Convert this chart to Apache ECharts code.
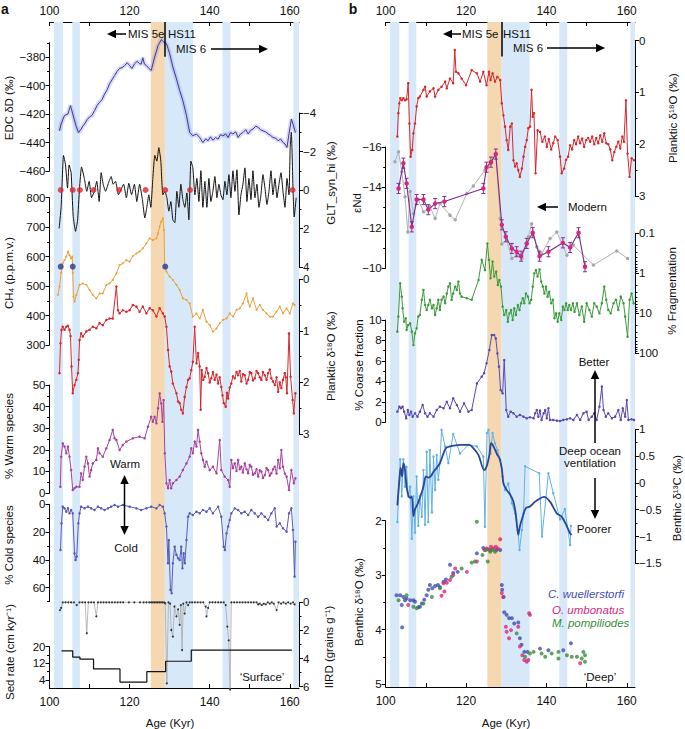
<!DOCTYPE html>
<html><head><meta charset="utf-8">
<script src="https://cdn.jsdelivr.net/npm/echarts@6/dist/echarts.min.js"></script>
<style>html,body{margin:0;padding:0;background:#fff}#c{width:685px;height:729px}</style>
</head><body><div id="c"></div>
<script>
// ---------- DATA ----------
const xTickVals = [100,110,120,130,140,150,160];
const xLabelVals = [100,120,140,160];
const blueBands = [[101.1,103.4],[105.7,107.6],[128.8,135.8],[143.2,145.2],[160.9,162.3]];
const orangeBands = [[125.3,128.8]];
const hs11Age = 128.8;

const edcD = [[102.5,-431.8],[102.9,-427],[103.75,-421],[104.6,-420],[105.25,-414],[105.8,-420],[106.7,-429],[107.25,-433],[107.9,-430.6],[108.3,-428.5],[108.75,-427],[109.4,-424],[110,-422],[110.6,-421],[111.25,-417.6],[111.9,-414],[112.5,-411.8],[113.1,-410],[113.75,-406],[114.4,-403],[115,-398.8],[115.6,-396],[116.25,-393],[116.9,-390],[117.5,-388],[118.1,-387.5],[118.75,-386],[119.4,-384],[120,-386],[120.6,-388],[121.25,-384.7],[121.9,-383],[122.5,-384.7],[122.9,-385],[123.3,-380.5],[123.7,-385],[124.2,-386],[124.8,-388],[125.4,-389.4],[125.8,-385],[126.25,-380],[126.7,-376],[127.1,-372],[127.5,-370],[127.9,-367.8],[128.5,-369.4],[129.2,-370.6],[129.6,-374],[130,-377.6],[130.8,-387],[131.7,-395.3],[132.5,-403.5],[133.3,-410.6],[134.2,-421],[135,-432.9],[135.8,-435.3],[136.7,-434],[137.5,-436.5],[138.3,-440],[139,-437.5],[139.6,-438.8],[140.2,-436],[140.8,-438.4],[141.5,-436.5],[142.1,-437.6],[142.7,-434.5],[143.3,-435.3],[144,-434],[144.6,-436.5],[145.2,-433],[145.8,-434],[146.5,-432.5],[147.1,-436.5],[147.7,-434],[148.3,-433],[149,-431],[149.6,-434],[150.2,-431.5],[150.8,-430.6],[151.5,-428.5],[152.1,-429.4],[152.7,-431],[153.3,-431.8],[154,-432.5],[154.6,-434],[155.2,-435],[155.8,-436.5],[156.5,-437],[157.1,-438.8],[157.7,-437.5],[158.3,-440],[158.8,-441],[159.3,-443.5],[159.8,-434],[160.4,-423.5],[160.8,-427],[161.4,-433]];

const gltSyn = [[102.4,2.0],[102.9,0.9],[103.5,-1.8],[104.0,-1.3],[104.5,-0.1],[104.9,-1.3],[105.4,-0.9],[105.9,1.3],[106.5,2.15],[107.0,1.6],[107.5,-0.1],[108.0,-1.2],[108.7,-0.6],[109.3,0.07],[109.9,-0.45],[110.5,0.4],[111.2,0.07],[111.8,-0.45],[112.4,0.6],[112.9,-0.9],[113.4,-0.3],[114.0,0.07],[114.7,-0.35],[115.4,-0.7],[115.9,-0.3],[116.5,-0.45],[117.2,0.25],[117.8,0],[118.5,-0.3],[119.2,0.4],[119.8,-0.35],[120.5,0.25],[121.2,-0.3],[121.8,0.6],[122.5,-0.3],[123.2,0.5],[123.8,1.45],[124.3,0.9],[124.8,0.25],[125.3,0.9],[125.8,-0.6],[126.3,-1.8],[126.8,-1.5],[127.3,-2.2],[127.8,-1.5],[128.3,0.25],[128.8,0.07],[129.3,0.4],[129.8,1.1],[130.3,0.6],[130.8,1.55],[131.3,1.7],[131.8,0.07],[132.3,0.9],[132.8,-0.3],[133.3,0.5],[133.8,0.9],[134.3,0.15],[134.8,1.55],[135.3,-1.5],[135.8,-1.15],[136.3,0.25],[136.8,-0.6],[137.3,0.6],[137.8,-1.0],[138.3,0.9],[138.8,-0.45],[139.3,0.9],[139.8,-0.6],[140.3,0.6],[140.8,0.07],[141.3,-0.7],[141.8,0.4],[142.3,-0.3],[142.8,0.25],[143.3,0.5],[143.8,-0.45],[144.3,0.25],[144.8,-0.8],[145.3,0.4],[145.8,-1.0],[146.3,0.07],[146.8,-1.05],[147.3,1.3],[147.8,0.25],[148.3,-0.3],[148.8,-1.15],[149.3,0.6],[149.8,-0.6],[150.3,0.5],[150.8,-1.0],[151.3,0.4],[151.8,-0.3],[152.3,0.9],[152.8,0.25],[153.3,-0.8],[153.8,-0.1],[154.3,0.75],[154.8,0.07],[155.3,-1.0],[155.8,0.25],[156.3,-0.6],[156.8,0.4],[157.3,-0.3],[157.8,-0.9],[158.3,0.07],[158.8,0.9],[159.3,-0.6],[159.8,0.25],[160.1,-2.2],[160.4,-3.0],[160.8,-0.1],[161.1,1.4],[161.6,0.4]];
const gltTiePoints = [[102.8,0],[105.8,0],[107.6,0],[111.0,0],[117.4,0],[124.0,0],[128.9,0],[135.1,0],[160.7,0]];

const ch4 = [[102.1,470],[102.5,498],[102.9,545],[103.3,577],[103.75,588],[104.2,600],[104.6,617],[105.0,605],[105.4,594],[105.7,600],[105.8,545],[106.0,464],[106.25,447],[106.7,470],[107.5,504],[108.3,509],[109.2,504],[110.0,487],[110.8,470],[111.7,458],[112.5,475],[113.3,475],[114.2,504],[115.0,509],[115.8,521],[116.7,543],[117.5,571],[118.3,577],[119.2,588],[120.0,583],[120.8,602],[121.7,611],[122.5,617],[123.3,628],[124.2,645],[125.0,662],[125.8,656],[126.7,662],[127.1,679],[127.5,702],[127.9,719],[128.3,730],[128.6,690],[128.75,566],[129.2,549],[130.0,532],[130.8,521],[131.7,504],[132.5,487],[133.3,458],[134.2,453],[135.0,441],[135.8,396],[136.7,407],[137.5,390],[138.3,419],[139.2,379],[140.0,368],[140.8,345],[141.7,356],[142.5,374],[143.3,385],[144.2,390],[145.0,407],[145.8,396],[146.7,419],[147.5,424],[148.3,441],[149.2,475],[149.6,447],[150.0,430],[150.8,458],[151.7,419],[152.5,436],[153.3,419],[154.2,407],[155.0,396],[155.8,396],[156.7,413],[157.5,430],[158.3,407],[159.2,424],[160.0,407],[160.8,441],[161.2,436]];
const ch4TiePoints = [[102.8,566],[105.8,566],[128.9,566]];

const plankA = [[102.5,1.82],[102.75,1.24],[103.0,0.98],[103.3,0.92],[103.75,0.98],[104.2,0.92],[104.6,0.9],[105.0,0.98],[105.25,1.1],[105.5,1.69],[105.8,2.21],[106.25,2.05],[106.7,1.95],[107.1,1.82],[107.3,1.56],[107.5,1.18],[107.9,1.05],[108.3,1.11],[109.2,1.01],[110.0,0.98],[110.8,0.92],[111.7,0.95],[112.5,0.85],[113.3,0.89],[114.2,0.79],[115.0,0.76],[115.8,0.76],[116.7,0.14],[117.1,0.6],[117.5,0.66],[118.3,0.6],[119.2,0.63],[120.0,0.6],[120.8,0.5],[121.7,0.53],[122.5,0.63],[123.3,0.53],[124.2,0.66],[125.0,0.56],[125.8,0.6],[126.7,0.72],[127.5,0.56],[128.3,0.66],[128.75,0.72],[129.2,0.92],[129.6,1.37],[130.0,1.69],[130.4,1.79],[130.8,2.02],[131.7,2.21],[132.1,2.37],[132.5,2.4],[132.9,2.53],[133.3,2.6],[133.75,2.28],[134.2,2.09],[134.6,1.95],[135.0,1.92],[135.4,1.76],[135.8,1.6],[136.25,0.92],[136.7,1.63],[137.1,1.43],[137.5,1.69],[137.75,2.53],[138.0,1.76],[138.4,1.95],[138.75,1.89],[139.2,1.72],[139.6,1.82],[140.0,2.0],[140.4,1.92],[140.8,1.8],[141.25,1.95],[141.7,1.85],[142.1,2.02],[142.5,1.9],[142.9,2.09],[143.2,2.25],[143.5,2.4],[144.0,2.47],[144.3,2.2],[144.6,2.31],[145.0,2.1],[145.4,2.02],[145.8,1.88],[146.25,1.92],[146.7,1.8],[147.1,1.86],[147.5,1.78],[147.9,1.98],[148.3,1.84],[148.75,1.86],[149.2,2.02],[149.6,1.95],[150.0,1.8],[150.4,1.82],[150.8,1.96],[151.25,1.92],[151.7,1.78],[152.1,1.82],[152.5,1.9],[152.9,1.95],[153.3,1.8],[153.75,1.86],[154.2,1.95],[154.6,1.82],[155.0,1.75],[155.4,1.92],[155.8,1.98],[156.25,2.05],[156.7,1.9],[157.1,2.18],[157.5,2.0],[157.9,2.11],[158.3,1.95],[158.75,1.82],[159.0,1.9],[159.3,2.21],[159.8,1.05],[160.2,1.89],[160.7,2.34],[161.0,2.6],[161.4,2.21]];

const warmSp = [[102.7,2.9],[102.9,16.8],[103.3,23],[103.75,21.5],[104.2,18.4],[104.6,21.5],[105.0,16.8],[105.4,10.6],[105.8,1.4],[106.25,2.2],[106.7,2.9],[107.5,2.9],[107.9,9.1],[108.3,6.0],[108.75,12.2],[109.2,16.8],[109.6,13.7],[110.0,7.6],[110.4,10.6],[110.8,13.7],[111.7,15.3],[112.1,20.7],[112.5,18.4],[113.3,16.8],[114.2,20.7],[115.0,24.5],[115.8,29.2],[116.25,25.3],[116.7,24.5],[117.5,19.9],[118.3,22.2],[119.2,23.8],[120.8,25.3],[122.5,26.1],[123.75,25.3],[124.6,30.7],[125.4,35.3],[125.8,33],[126.25,35.3],[126.7,32.3],[127.1,39.2],[127.5,46.1],[127.9,41.5],[128.2,33],[128.5,43],[128.8,18.4],[129.2,4.5],[129.6,2.2],[130.0,6],[130.4,2.2],[130.8,4.5],[131.7,6],[132.5,7.6],[133.3,10.6],[134.2,13.7],[135.0,16.8],[135.4,20.7],[135.8,18.4],[136.25,23.8],[136.7,21.5],[137.1,29.2],[137.5,23.8],[137.9,18.4],[138.3,15.3],[138.75,12.2],[139.2,14.5],[140.0,10.6],[140.8,12.2],[141.7,9.1],[142.5,24.5],[142.9,10.6],[143.75,7.6],[144.6,6],[145.0,2.9],[145.4,15.3],[145.8,11.5],[146.25,13.7],[146.7,10.2],[147.1,15.3],[147.5,11],[147.9,12.2],[148.3,9.5],[148.75,13.7],[149.2,11],[149.6,9.1],[150.0,13],[150.4,12.2],[150.8,8.5],[151.25,9.1],[151.7,11],[152.1,7.6],[152.5,10.5],[152.9,9.9],[153.3,7],[153.75,8.3],[154.2,11.5],[154.6,10.6],[155.0,8],[155.4,9.1],[155.8,11],[156.25,12.2],[156.7,9],[157.1,15.3],[157.5,11.5],[157.9,19.9],[158.3,12.2],[158.75,9],[159.2,7.6],[159.8,1.4],[160.4,10.6],[161.0,4.5],[161.4,6.8]];

const coldSp = [[102.75,32.9],[103.0,13.7],[103.3,1.7],[103.75,2.9],[104.2,5.3],[104.6,2.9],[105.0,6.5],[105.4,4.1],[105.8,6.5],[106.25,35.3],[106.5,40],[106.8,37.6],[107.2,13.7],[107.5,6.5],[107.9,1.7],[108.75,2.9],[109.6,1.7],[110.4,2.9],[111.25,4.1],[112.1,1.7],[112.9,2.9],[113.75,4.1],[114.6,2.9],[115.4,1.7],[116.25,0.5],[117.1,1.7],[118.3,0.5],[120.0,1.7],[121.7,2.9],[122.9,4.1],[124.2,2.9],[125.4,1.7],[126.7,2.9],[127.5,0.5],[128.3,1.7],[128.75,6.5],[129.2,16],[129.6,42.4],[129.8,25.7],[130.2,61.6],[130.5,64],[130.8,42.4],[131.25,30.5],[131.7,36.4],[132.1,38.8],[132.5,40],[132.9,30.5],[133.2,46],[133.5,35.3],[133.8,42.4],[134.2,25.7],[134.6,8.9],[135.0,6.5],[135.8,7.7],[136.7,5.3],[137.5,6.5],[138.3,4.1],[139.2,5.3],[140.0,2.9],[140.8,6.5],[142.1,1.7],[142.9,8.9],[143.5,30.5],[143.8,32.9],[144.2,20.9],[144.6,16],[145.0,11.3],[145.4,6.5],[146.25,2.9],[147.1,4.1],[147.9,6.5],[148.75,5.3],[149.6,7.7],[150.4,4.1],[151.25,6.5],[152.1,8.9],[152.9,6.5],[153.75,8.9],[154.6,11.3],[155.4,6.5],[156.25,2.9],[156.7,16],[157.5,13.7],[158.3,17.3],[159.2,19.7],[159.8,6.5],[160.4,2.9],[160.8,18.5],[161.2,52],[161.4,26.9]];

const iird = [[102.6,0.55],[102.9,0.4],[103.3,0],[104.0,0],[104.7,0],[105.4,0],[106.1,0],[106.8,0.2],[107.5,0],[108.2,0],[108.9,0],[109.3,2.2],[109.7,0],[110.4,0],[111.1,0],[111.7,1.0],[112.1,0],[112.8,0],[113.5,0],[114.2,0],[114.9,0],[115.6,0],[116.3,0],[117.0,0],[117.7,0],[118.4,0],[119.8,0],[121.2,0],[122.6,0],[123.5,0],[124.2,0],[124.9,0],[125.4,0],[125.8,0],[126.2,0],[126.6,0],[127.0,0],[127.4,0],[127.8,0],[128.2,0],[128.6,0],[128.9,0.07],[129.3,5.76],[129.7,0],[130.1,0.1],[130.4,1.97],[130.8,2.44],[131.2,0.3],[131.7,1.0],[132.1,0.5],[132.5,1.6],[132.8,0.2],[133.1,3.4],[133.4,0.1],[133.75,0.8],[134.2,0],[134.6,0.2],[135.0,0],[135.6,0],[136.3,0],[137.0,0],[137.7,0],[138.4,0],[139.0,0.3],[139.2,1.0],[139.6,0.4],[140.0,0],[140.7,0],[141.4,0],[142.1,0],[142.8,0],[143.5,0],[144.0,0.2],[144.4,1.73],[144.75,2.7],[145.1,6.2],[145.4,0],[146.1,0],[146.8,0],[147.5,0],[148.2,0],[148.9,0],[149.6,0],[150.3,0],[151.0,0],[151.7,0],[152.1,0.15],[152.5,0.1],[153.0,0.2],[153.5,0.1],[154.0,0.15],[154.5,0],[155.0,0.1],[155.5,0],[156.0,0.1],[156.7,0.55],[157.2,0],[157.8,0.1],[158.4,0],[159.0,0.1],[159.6,0],[160.2,0.1],[160.8,0],[161.2,0.15]];

const sedRate = [[103.0,18],[105.8,15],[107.6,14],[111.0,9.3],[117.6,3],[124.3,8],[129.0,13],[135.4,18.4],[160.5,18.4]];

const plankB = [[102.9,1.85],[103.15,1.4],[103.4,1.21],[103.65,1.11],[104.0,1.15],[104.4,1.11],[104.8,1.15],[105.2,1.13],[105.6,0.82],[105.9,1.6],[106.2,2.24],[106.6,2.11],[106.9,1.79],[107.3,1.6],[107.7,1.27],[108.1,1.11],[108.5,1.08],[109.4,0.95],[109.8,0.89],[110.2,1.08],[111.0,0.98],[111.9,0.92],[112.3,1.08],[113.1,0.95],[113.9,0.89],[114.8,0.79],[115.2,0.92],[116.0,0.73],[116.8,0.82],[117.2,0.18],[117.5,0.6],[118.1,0.63],[118.9,0.73],[120.0,0.86],[121.4,0.57],[122.7,0.63],[123.5,0.79],[124.3,0.6],[125.1,0.86],[125.7,0.6],[126.1,0.76],[126.6,0.63],[127.2,0.79],[127.8,0.7],[128.5,0.76],[128.9,1.21],[129.3,1.44],[129.7,1.66],[130.1,1.92],[130.5,2.11],[131.0,1.66],[131.4,1.6],[131.8,2.31],[132.2,2.43],[132.6,2.37],[133.0,2.5],[133.4,2.63],[133.9,2.47],[134.3,2.24],[134.7,2.05],[135.1,1.92],[135.5,1.69],[135.9,1.66],[136.3,0.95],[136.6,1.47],[136.9,1.4],[137.3,2.56],[137.8,1.73],[138.4,1.76],[139.0,1.95],[139.6,1.85],[140.1,2.05],[140.6,1.9],[141.2,2.1],[141.7,1.98],[142.2,1.85],[142.8,1.92],[143.4,2.24],[143.8,2.56],[144.4,2.47],[144.9,2.3],[145.4,2.24],[145.9,2.02],[146.4,2.1],[146.9,1.92],[147.4,2.0],[147.9,1.85],[148.4,1.98],[148.9,1.89],[149.4,2.05],[149.9,1.92],[150.4,1.88],[150.9,1.95],[151.4,1.85],[151.9,2.0],[152.4,1.88],[152.9,1.98],[153.4,1.83],[153.9,1.95],[154.4,1.79],[154.9,1.98],[155.4,2.0],[155.9,2.1],[156.4,2.31],[156.9,2.15],[157.4,2.05],[157.9,1.95],[158.4,2.08],[158.9,1.85],[159.3,1.95],[159.8,1.15],[160.2,2.18],[160.7,2.63],[161.2,2.27],[161.8,2.31]];

const ndPurple = [[103.2,-13.95],[104.4,-15.2],[105.2,-14.2],[106.5,-12.05],[107.7,-13.4],[109.4,-13.4],[110.6,-12.9],[112.3,-13.2],[114.6,-13.3],[124.3,-13.95],[125.1,-15.0],[126.2,-15.25],[127.4,-15.65],[128.9,-12.15],[129.9,-11.56],[131.4,-10.98],[132.6,-10.82],[133.7,-10.6],[135.1,-11.23],[136.6,-11.76],[138.3,-10.6],[140.5,-10.82],[144.1,-11.26],[145.9,-11.03],[148.0,-11.76],[149.6,-10.08]];
const ndGrey = [[102.3,-15.27],[103.2,-15.77],[104.0,-14.78],[104.8,-13.54],[105.5,-11.8],[106.1,-13.8],[106.9,-12.7],[108.1,-13.4],[109.4,-12.8],[111.0,-13.05],[112.3,-12.47],[113.5,-13.2],[116.0,-12.63],[117.3,-12.4],[120.2,-13.7],[121.8,-14.07],[124.7,-14.86],[126.2,-15.2],[127.4,-15.7],[128.5,-12.47],[128.9,-11.2],[130.1,-11.4],[131.4,-10.49],[132.6,-10.65],[133.9,-10.49],[135.5,-11.56],[136.3,-12.2],[137.6,-11.06],[138.8,-10.72],[140.9,-11.47],[142.6,-11.8],[145.1,-10.65],[146.7,-11.15],[151.7,-10.16],[157.5,-10.86],[160.2,-10.49]];
const ndError = 0.25;

const fragment = [[102.9,28.7],[103.15,12.1],[103.6,1.78],[104.0,3.83],[104.2,7.5],[104.6,16.2],[105.0,13.3],[105.2,26],[105.6,19.6],[106.1,17.8],[106.5,28.7],[106.9,61.9],[107.3,31.6],[107.7,23.7],[108.1,12.1],[108.5,11],[109.0,4.6],[109.4,2.6],[109.8,6.2],[110.2,8.25],[110.6,6.2],[111.0,4.6],[111.5,7.5],[111.9,6.2],[112.3,11],[112.7,7.5],[113.1,4.6],[113.5,8.25],[113.9,4.6],[114.4,3.83],[114.8,5.6],[115.2,3.2],[115.6,2.15],[116.0,1.78],[116.4,4.6],[116.8,3.2],[117.3,2.15],[117.7,2.6],[118.1,1.6],[118.5,3.2],[118.9,3.83],[120.2,4.2],[121.4,4.6],[123.1,1.47],[123.9,0.46],[124.7,0.83],[125.3,0.18],[125.7,0.46],[126.1,1.33],[126.6,0.51],[127.0,1.2],[127.5,0.9],[127.9,1.96],[128.3,1.47],[128.7,2.15],[129.1,6.8],[129.5,11],[130.0,8.25],[130.4,16.2],[130.8,10],[131.2,8.25],[131.6,14.7],[132.0,7.5],[132.4,11],[132.9,6.2],[133.3,8.25],[133.7,5.6],[134.1,4.2],[134.5,5.6],[134.9,3.2],[135.4,3.83],[135.8,5.6],[136.2,4.6],[136.6,2.15],[137.0,1],[137.4,0.83],[137.8,1.2],[138.3,0.8],[138.7,1.6],[139.1,2.15],[139.5,3.2],[139.9,2.15],[140.3,3.83],[140.7,2.9],[141.2,5.6],[141.6,4.6],[142.0,13.3],[142.4,10],[142.8,16.2],[143.2,10],[143.7,14.7],[144.1,6.8],[144.5,8.25],[144.9,5.6],[145.3,8.25],[145.7,6.2],[146.1,8.25],[146.6,5.6],[147.0,9.2],[147.6,5.6],[148.2,11],[148.8,6.8],[149.4,16.2],[150.0,5.6],[150.7,8.25],[151.3,12.1],[151.9,5.6],[152.5,6.8],[153.2,10],[153.8,5.6],[154.4,2.15],[154.9,4.6],[155.4,8.25],[156.0,10],[156.7,5.6],[157.3,4.6],[157.9,8.25],[158.5,3.83],[159.2,5.6],[159.6,12.1],[160.2,38.3],[160.7,4.6],[161.2,3.2],[161.7,5.6]];

const coarse = [[102.9,1.04],[103.4,1.53],[103.8,1.37],[104.2,1.53],[104.6,1.04],[105.1,0.39],[105.5,1.2],[105.9,0.72],[106.3,1.04],[106.7,0.55],[107.3,0.88],[107.9,0.55],[108.5,1.04],[109.2,1.69],[109.8,0.88],[110.4,0.55],[111.0,0.88],[111.9,0.55],[112.7,1.2],[113.5,1.53],[114.4,1.37],[115.2,2.0],[116.0,1.37],[116.8,2.35],[117.7,1.69],[118.5,1.04],[119.5,1.86],[120.6,1.04],[121.4,1.2],[122.7,3.8],[123.9,4.46],[124.5,4.8],[125.1,5.77],[125.8,7.07],[126.4,8.53],[127.0,8.53],[127.4,8.2],[127.8,6.74],[128.2,5.44],[128.6,3.16],[129.1,2.83],[129.5,6.09],[130.0,1.2],[130.5,0.55],[131.1,1.04],[131.8,0.88],[132.6,0.55],[133.4,0.72],[134.3,0.55],[135.1,0.39],[135.9,0.49],[136.8,0.39],[137.2,0.88],[137.6,1.2],[138.0,0.55],[138.4,1.14],[138.8,0.23],[139.3,0.88],[139.7,1.2],[140.1,0.39],[140.5,1.37],[140.9,0.23],[141.7,0.23],[142.6,0.16],[143.4,0.13],[144.2,0.23],[145.1,0.29],[145.9,0.39],[146.7,0.23],[147.6,0.72],[148.4,0.23],[149.2,0.88],[150.0,1.04],[150.5,0.23],[151.3,0.55],[151.9,0.88],[152.5,0.23],[153.2,1.53],[153.8,3.49],[154.2,1.2],[154.8,0.55],[155.4,0.88],[156.3,0.39],[157.1,0.55],[157.9,1.2],[158.5,0.23],[159.0,1.37],[159.6,0.55],[160.0,2.18],[160.4,0.23],[161.2,0.29],[161.8,0.23]];

const d13cSmooth = [[102.9,-0.42],[103.4,0.06],[103.7,0.28],[104.1,0.12],[104.4,0.37],[104.8,0.25],[105.2,-0.07],[105.6,-0.22],[106.1,-0.28],[106.5,-0.25],[106.9,-0.62],[107.3,-0.49],[107.9,-0.4],[108.5,-0.28],[109.4,-0.07],[110.0,0.12],[110.6,0.1],[111.2,0.12],[111.9,0.21],[112.7,0.28],[113.5,0.37],[114.4,0.55],[115.0,0.65],[116.0,0.68],[117.3,0.7],[118.5,0.71],[119.8,0.71],[120.8,0.71],[121.8,0.65],[123.1,0.52],[124.5,0.24],[125.1,0.3],[125.8,0.52],[126.2,0.74],[126.6,0.71],[127.2,0.62],[127.8,0.52],[128.3,0.46],[128.9,0.27],[129.3,-0.01],[130.1,-0.13],[131.0,-0.22],[131.8,-0.35],[132.4,-0.6],[133.0,-0.97],[133.4,-0.81],[134.1,-0.63],[134.9,-0.47],[135.9,-0.44],[137.2,-0.35],[138.4,-0.29],[139.4,-0.26],[140.9,-0.35],[142.6,-0.57],[143.8,-0.63],[145.1,-0.81],[145.9,-0.94],[146.3,-0.97]];
const d13cRaw = [[102.9,-0.73],[103.6,0.44],[104.0,-0.25],[104.4,0.44],[104.8,-0.07],[105.2,0.3],[105.6,-0.25],[106.1,-0.07],[106.5,-1.04],[106.9,-0.25],[107.3,-0.93],[107.7,0.12],[108.1,-0.8],[108.5,-0.25],[109.0,-0.63],[109.4,0.24],[109.8,-0.78],[110.2,0.58],[110.6,-0.73],[111.0,0.61],[111.5,-0.55],[111.9,0.49],[112.3,-0.13],[112.7,0.52],[113.1,0.06],[113.5,0.37],[113.9,0.99],[114.8,0.68],[115.6,0.37],[116.8,0.91],[118.5,0.55],[120.6,0.71],[122.7,0.68],[124.3,0.49],[124.7,-0.82],[125.2,0.93],[125.6,0.99],[126.1,0.55],[126.6,0.93],[127.2,0.74],[127.8,0.61],[128.5,0.43],[129.1,0.12],[129.7,-0.13],[130.5,-0.01],[131.4,-0.38],[132.2,-0.57],[132.9,-0.88],[133.3,-1.25],[133.9,-0.88],[134.3,-0.57],[134.7,0.31],[138.2,0.18],[138.9,-1.0],[140.5,0.18],[141.7,-0.19],[143.4,-0.68],[144.6,-0.49],[145.9,-1.16],[146.1,-0.8]];

const wuellerstorfi = [[102.7,3.37],[103.6,3.37],[104.0,3.55],[104.4,3.4],[104.8,3.46],[105.2,3.43],[104.1,3.96],[106.1,3.46],[106.9,3.46],[107.3,3.49],[108.1,3.59],[108.5,3.58],[109.0,3.52],[109.6,3.45],[110.2,3.37],[110.6,3.27],[111.0,3.18],[111.6,3.24],[112.3,3.2],[113.0,3.18],[113.5,3.22],[114.4,3.12],[115.0,3.08],[116.0,2.81],[116.8,2.96],[117.9,2.94],[122.7,2.6],[124.3,2.5],[126.0,2.54],[127.6,2.54],[128.5,2.54],[128.9,3.18],[129.0,3.27],[129.3,3.4],[129.5,3.68],[130.1,3.73],[130.7,3.79],[131.4,3.79],[132.0,3.89],[133.0,3.87],[133.4,4.16],[133.8,4.28],[134.5,4.41],[135.3,4.41],[138.4,4.35],[140.5,4.38],[144.2,4.38],[146.1,4.25]];
const umbonatus = [[105.6,3.55],[113.9,3.38],[114.4,3.15],[114.6,3.3],[115.2,3.14],[116.0,3.09],[116.8,3.0],[117.3,2.88],[120.2,2.94],[122.7,2.75],[124.6,2.54],[125.1,2.51],[125.6,2.53],[126.2,2.48],[126.8,2.51],[127.4,2.48],[127.9,2.51],[128.5,2.34],[128.9,3.33],[129.3,3.4],[129.9,3.95],[130.1,4.04],[130.7,4.16],[131.2,4.01],[133.0,3.95],[133.4,4.31],[134.0,4.47],[134.5,4.56],[135.1,4.59],[135.5,4.56],[135.7,3.7],[135.9,3.73],[148.4,4.62]];
const pompiliodes = [[103.2,3.46],[105.2,3.37],[106.9,3.58],[107.7,3.61],[109.4,3.52],[111.5,3.4],[113.5,3.24],[116.4,3.03],[118.9,2.88],[121.4,2.77],[122.2,2.75],[122.7,2.02],[124.1,2.63],[124.9,2.54],[125.4,2.75],[126.0,2.57],[126.6,2.54],[127.2,2.57],[132.6,4.07],[134.7,4.5],[135.9,4.44],[136.8,4.41],[138.8,4.44],[139.7,4.5],[141.3,4.44],[143.0,4.41],[143.0,4.53],[145.1,4.47],[146.3,4.5],[147.6,4.5],[148.8,4.53],[149.2,4.41],[149.6,4.47],[149.6,4.59]];

// tick values
const tk = {
  edcMajor:[-460,-440,-420,-400,-380], edcMinor:[-450,-430,-410,-390,-370],
  gltMajor:[-4,-2,0,2,4], gltMinor:[-3,-1,1,3],
  ch4Major:[300,400,500,600,700,800], ch4Minor:[350,450,550,650,750],
  p18Major:[0,1,2,3], p18Minor:[0.5,1.5,2.5],
  warmMajor:[0,10,20,30,40,50], warmMinor:[5,15,25,35,45],
  coldMajor:[0,20,40,60], coldMinor:[10,30,50,70],
  iirdMajor:[0,2,4,6], iirdMinor:[1,3,5],
  sedMajor:[4,12,20], sedMinor:[8,16],
  ndMajor:[-16,-14,-12,-10], ndMinor:[-15,-13,-11],
  fragMajor:[0.1,1,10,100], fragMinor:[0.2,0.3,0.4,0.5,0.6,0.7,0.8,0.9,2,3,4,5,6,7,8,9,20,30,40,50,60,70,80,90],
  coarseMajor:[0,2,4,6,8,10], coarseMinor:[1,3,5,7,9],
  c13Major:[-1.5,-1,-0.5,0,0.5,1], c13Minor:[-1.25,-0.75,-0.25,0.25,0.75],
  b18Major:[2,3,4,5], b18Minor:[2.5,3.5,4.5]
};

// ---------- BUILD ----------
const FONT = '"Liberation Sans", Arial, Helvetica, sans-serif';
const BLUE = '#d7e9f9', ORANGE = '#f5d8b2';
const grids = [], xAxes = [], yAxes = [], series = [];
const LEFT = {left:49.5, width:249.5, xmax:162.3};
const RIGHT = {left:385.7, width:249.3, xmax:162.05};
const fmt = v => String(v).replace('-', '\u2212');

function frame(P, top, height){
  const gi = grids.length;
  grids.push({left:P.left, top:top, width:P.width, height:height});
  const xa = xAxes.length;
  const mk = (pos, margin) => ({type:'value', gridIndex:gi, position:pos, min:100, max:P.xmax,
    axisLine:{show:true, onZero:false, lineStyle:{color:'#000', width:1}},
    axisTick:{show:true, inside:true, length:4, customValues:xTickVals, lineStyle:{color:'#000'}},
    axisLabel:{customValues:xLabelVals, fontSize:12, color:'#111', fontFamily:FONT, margin:margin},
    splitLine:{show:false}});
  xAxes.push(mk('top', 5));
  xAxes.push(mk('bottom', 8));
  const ya = yAxes.length;
  yAxes.push({type:'value', gridIndex:gi, min:0, max:1, show:false});
  const areas = blueBands.map(b => [{xAxis:b[0], itemStyle:{color:BLUE}}, {xAxis:Math.min(b[1], P.xmax)}])
    .concat(orangeBands.map(b => [{xAxis:b[0], itemStyle:{color:ORANGE}}, {xAxis:b[1]}]));
  series.push({type:'line', xAxisIndex:xa, yAxisIndex:ya, data:[[100,-5],[101,-5]], showSymbol:false,
    lineStyle:{opacity:0}, silent:true, z:0, clip:true,
    markArea:{silent:true, data:areas},
    markLine:{silent:true, symbol:'none', label:{show:false}, lineStyle:{color:'#000', width:1.5, type:'solid'},
      data:[[{coord:[hs11Age,1]},{coord:[hs11Age,0.948]}]]}
  });
}

function sub(P, top, height, o){
  const gi = grids.length;
  grids.push({left:P.left, top:top, width:P.width, height:height});
  const xa = xAxes.length;
  xAxes.push({type:'value', gridIndex:gi, min:100, max:P.xmax, show:false});
  const ya = yAxes.length;
  const base = {type:o.log ? 'log' : 'value', gridIndex:gi, min:o.min, max:o.max, inverse:!!o.inverse,
    position:o.side, splitLine:{show:false}};
  if (o.log) base.logBase = 10;
  yAxes.push(Object.assign({}, base, {
    axisLine:{show:true, onZero:false, lineStyle:{color:'#000', width:1}},
    axisTick:{show:true, length:4, customValues:o.major, lineStyle:{color:'#000'}},
    axisLabel:{show:true, customValues:o.major, formatter:v => fmt(v), fontSize:11.5, color:'#111', fontFamily:FONT, margin:4}
  }));
  yAxes.push(Object.assign({}, base, {
    axisLine:{show:false},
    axisTick:{show:true, length:2.5, customValues:o.minor, lineStyle:{color:'#000'}},
    axisLabel:{show:false}
  }));
  return {xAxisIndex:xa, yAxisIndex:ya};
}

function line(ax, data, color, extra){
  series.push(Object.assign({type:'line', data:data, clip:false, symbol:'circle', symbolSize:2, showSymbol:true,
    lineStyle:{color:color, width:1}, itemStyle:{color:color}, z:3}, ax, extra || {}));
}

frame(LEFT, 22, 666);
frame(RIGHT, 22, 665);

// left panel
const aEDC = sub(LEFT, 42.75, 128.25, {min:-460, max:-370, side:'left', major:tk.edcMajor, minor:tk.edcMinor});
line(aEDC, edcD, 'rgba(130,130,225,0.3)', {showSymbol:false, lineStyle:{color:'rgba(130,130,225,0.3)', width:4.5}, z:2});
line(aEDC, edcD, '#3a3c9a', {showSymbol:false});
const aGLT = sub(LEFT, 113, 154, {min:-4, max:4, inverse:true, side:'right', major:tk.gltMajor, minor:tk.gltMinor});
line(aGLT, gltSyn, '#111', {showSymbol:false, smooth:0.15});
series.push(Object.assign({type:'scatter', data:gltTiePoints, symbolSize:6, itemStyle:{color:'#e0252a'}, z:5}, aGLT));
const aCH4 = sub(LEFT, 197.7, 147.3, {min:300, max:800, side:'left', major:tk.ch4Major, minor:tk.ch4Minor});
line(aCH4, ch4, '#eaa23c');
series.push(Object.assign({type:'scatter', data:ch4TiePoints, symbolSize:6, itemStyle:{color:'#283890'}, z:5}, aCH4));
const aP18 = sub(LEFT, 279.3, 154.7, {min:0, max:3, inverse:true, side:'right', major:tk.p18Major, minor:tk.p18Minor});
line(aP18, plankA, '#d6282d', {symbolSize:2.5});
const aWarm = sub(LEFT, 385, 108, {min:0, max:50, side:'left', major:tk.warmMajor, minor:tk.warmMinor});
line(aWarm, warmSp, '#a5439f', {symbolSize:2.5});
const aCold = sub(LEFT, 504.3, 97.3, {min:0, max:70, inverse:true, side:'left', major:tk.coldMajor, minor:tk.coldMinor});
line(aCold, coldSp, '#5a5bb8', {symbolSize:2.5});
const aIIRD = sub(LEFT, 602.3, 84.4, {min:0, max:6, inverse:true, side:'right', major:tk.iirdMajor, minor:tk.iirdMinor});
line(aIIRD, iird, '#999', {symbolSize:2, itemStyle:{color:'#333'}, lineStyle:{color:'#aaa', width:0.8}});
const aSed = sub(LEFT, 646.7, 41.6, {min:0, max:20, side:'left', major:tk.sedMajor, minor:tk.sedMinor});
line(aSed, sedRate, '#111', {showSymbol:false, step:'end', lineStyle:{color:'#111', width:1.2}});

// right panel
const bP18 = sub(RIGHT, 40.7, 155.3, {min:0, max:3, inverse:true, side:'right', major:tk.p18Major, minor:tk.p18Minor});
line(bP18, plankB, '#d6282d', {symbolSize:2.5});
const bND = sub(RIGHT, 147, 121.3, {min:-16, max:-10, inverse:true, side:'left', major:tk.ndMajor, minor:tk.ndMinor});
line(bND, ndGrey, '#b4b4b4', {symbolSize:3.5, itemStyle:{color:'#a8a8a8'}});
series.push(Object.assign({type:'custom', data:ndPurple, z:4, renderItem:function(params, api){
  const x = api.value(0), y = api.value(1);
  const p1 = api.coord([x, y - ndError]), p2 = api.coord([x, y + ndError]);
  const st = {stroke:'#8a2f90', lineWidth:1};
  return {type:'group', children:[
    {type:'line', shape:{x1:p1[0], y1:p1[1], x2:p2[0], y2:p2[1]}, style:st},
    {type:'line', shape:{x1:p1[0]-2, y1:p1[1], x2:p1[0]+2, y2:p1[1]}, style:st},
    {type:'line', shape:{x1:p2[0]-2, y1:p2[1], x2:p2[0]+2, y2:p2[1]}, style:st}
  ]};
}}, bND));
line(bND, ndPurple, '#7a2b8c', {symbolSize:4.5, itemStyle:{color:'#d8267e'}, lineStyle:{color:'#7a2b8c', width:1.1}, z:5});
const bFrag = sub(RIGHT, 233.3, 120, {log:true, min:0.1, max:100, inverse:true, side:'right', major:tk.fragMajor, minor:tk.fragMinor});
line(bFrag, fragment, '#3c9a3c', {symbolSize:2.5});
const bCoarse = sub(RIGHT, 320, 102.3, {min:0, max:10, side:'left', major:tk.coarseMajor, minor:tk.coarseMinor});
line(bCoarse, coarse, '#5a49b0', {symbolSize:2.5});
const bC13 = sub(RIGHT, 429.3, 134, {min:-1.5, max:1, side:'right', major:tk.c13Major, minor:tk.c13Minor});
line(bC13, d13cRaw, '#62b2e8', {symbolSize:2.5});
line(bC13, d13cSmooth, '#28469a', {showSymbol:false, smooth:0.3, lineStyle:{color:'#28469a', width:1.8}, z:4});
const bB18 = sub(RIGHT, 520.7, 163.3, {min:2, max:5, inverse:true, side:'left', major:tk.b18Major, minor:tk.b18Minor});
[[wuellerstorfi,'#3f4db2'],[umbonatus,'#d8287c'],[pompiliodes,'#3a8c3a']].forEach(function(s){
  series.push(Object.assign({type:'scatter', data:s[0], symbolSize:4, itemStyle:{color:s[1]}, z:5}, bB18));
});

// ---------- ANNOTATIONS ----------
const g = [];
function txt(t, x, y, o){
  o = o || {};
  g.push({type:'text', x:x, y:y, rotation:o.rot || 0, z:10, style:{text:t, x:0, y:0, fill:o.color || '#111',
    fontSize:o.size || 11.5, fontFamily:FONT, fontWeight:o.weight || 'normal', fontStyle:o.style || 'normal',
    textAlign:o.align || 'center', textVerticalAlign:'middle', align:o.align || 'center', verticalAlign:'middle'}});
}
function arrow(x1, y1, x2, y2){
  const dx = x2 - x1, dy = y2 - y1, L = Math.sqrt(dx*dx + dy*dy), ux = dx/L, uy = dy/L;
  const hl = 9, hw = 4.2, bx = x2 - ux*hl, by = y2 - uy*hl;
  g.push({type:'line', z:10, shape:{x1:x1, y1:y1, x2:bx, y2:by}, style:{stroke:'#000', lineWidth:1.5}});
  g.push({type:'polygon', z:10, shape:{points:[[x2,y2],[bx - uy*hw, by + ux*hw],[bx + uy*hw, by - ux*hw]]}, style:{fill:'#000'}});
}
const R90 = Math.PI/2;
txt('a', 5, 9, {size:14, weight:'bold'});
txt('b', 353, 9, {size:14, weight:'bold'});
txt('MIS 5e', 128, 34, {align:'left'}); txt('HS11', 168, 34, {align:'left'}); txt('MIS 6', 176, 49, {align:'left'});
arrow(126, 34, 107, 34); arrow(211, 49, 268, 49);
txt('MIS 5e', 462, 34, {align:'left'}); txt('HS11', 503, 34, {align:'left'}); txt('MIS 6', 513, 48, {align:'left'});
arrow(461, 34, 443, 34); arrow(547, 48, 605, 48);
// axis titles left panel
txt('EDC \u03b4D (\u2030)', 9, 108, {rot:R90});
txt('GLT_syn_hi (\u2030)', 331, 183, {rot:R90});
txt('CH\u2084 (p.p.m.v.)', 9, 273, {rot:R90});
txt('Planktic \u03b4\u00b9\u2078O (\u2030)', 331, 356, {rot:R90});
txt('% Warm species', 9, 436, {rot:R90});
txt('% Cold species', 9, 545, {rot:R90});
txt('Sed rate (cm kyr\u207b\u00b9)', 10, 652, {rot:R90});
txt('IIRD (grains g\u207b\u00b9)', 329, 647, {rot:R90});
txt('Age (Kyr)', 170, 723);
// axis titles right panel
txt('Planktic \u03b4\u00b9\u2078O (\u2030)', 673, 118, {rot:R90});
txt('\u03b5Nd', 357, 203, {rot:R90});
txt('% Fragmentation', 672, 291, {rot:R90});
txt('% Coarse fraction', 359, 365, {rot:R90});
txt('Benthic \u03b4\u00b9\u00b3C (\u2030)', 677, 498, {rot:R90});
txt('Benthic \u03b4\u00b9\u2078O (\u2030)', 359, 602, {rot:R90});
txt('Age (Kyr)', 506, 723);
// other labels
txt('Warm', 125, 464); txt('Cold', 126, 548);
arrow(124.5, 505, 124.5, 475); arrow(124.5, 505, 124.5, 535);
txt('Modern', 568, 207, {align:'left'}); arrow(558, 207, 537, 207);
txt('Better', 594, 362); arrow(595, 443, 595, 370);
txt('Deep ocean', 590, 451); txt('ventilation', 590, 463);
arrow(595, 478, 595, 519); txt('Poorer', 594, 529);
txt('C. wuellerstorfi', 548, 594, {align:'left', style:'italic', color:'#3f4db2'});
txt('O. umbonatus', 552, 610, {align:'left', style:'italic', color:'#d8287c'});
txt('M. pompiliodes', 552, 623, {align:'left', style:'italic', color:'#3a8c3a'});
txt('\u2018Surface\u2019', 262, 677);
txt('\u2018Deep\u2019', 600, 677);

const chart = echarts.init(document.getElementById('c'), null, {renderer:'svg'});
chart.setOption({animation:false, backgroundColor:'#fff', grid:grids, xAxis:xAxes, yAxis:yAxes, series:series, graphic:g});
</script></body></html>
